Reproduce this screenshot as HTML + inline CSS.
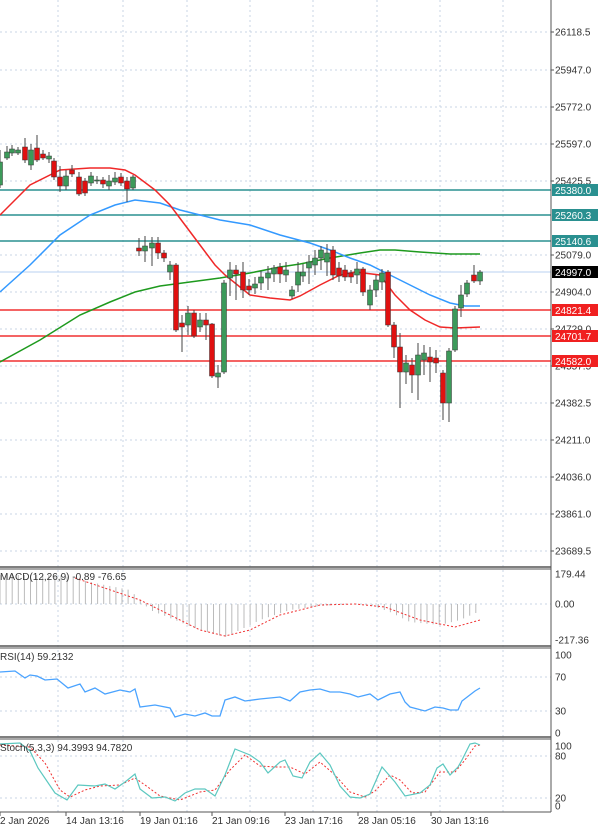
<!DOCTYPE html><html><head><meta charset="utf-8"><style>
body{margin:0;background:#fff;width:600px;height:828px;overflow:hidden}
svg{display:block;font-family:"Liberation Sans",sans-serif}
</style></head><body>
<svg id="s" width="600" height="828" viewBox="0 0 600 828" xmlns="http://www.w3.org/2000/svg"></svg>
<script>
const S=document.getElementById('s');let h='';
const ax=551;
// grids
const vx=[58,123,187,250,313,377,440,503];
const yl=[[32,'26118.5'],[70,'25947.0'],[107,'25772.0'],[144,'25597.0'],[181,'25425.5'],[255,'25079.0'],[292,'24904.0'],[329,'24729.0'],[366,'24557.5'],[403,'24382.5'],[440,'24211.0'],[477,'24036.0'],[514,'23861.0'],[551,'23689.5']];
const g='stroke="#c8d4e4" stroke-width="1" stroke-dasharray="2,3"';
for(const x of vx){h+=`<line x1="${x}" y1="0" x2="${x}" y2="812" ${g}/>`;}
for(const [y] of yl){h+=`<line x1="0" y1="${y}" x2="${ax}" y2="${y}" ${g}/>`;}
[604,677,711,756,798].forEach(y=>h+=`<line x1="0" y1="${y}" x2="${ax}" y2="${y}" ${g}/>`);
// levels
h+=`<line x1="0" y1="272" x2="${ax}" y2="272" stroke="#b8d0f0"/>`;
[190,215,241].forEach(y=>h+=`<line x1="0" y1="${y}" x2="${ax}" y2="${y}" stroke="#2a9090" stroke-width="1.5"/>`);
[310,336,361].forEach(y=>h+=`<line x1="0" y1="${y}" x2="${ax}" y2="${y}" stroke="#f03030" stroke-width="1.5"/>`);
// MAs
const pl=(p,c,w,d)=>`<polyline fill="none" stroke="${c}" stroke-width="${w}" ${d||''} points="${p.map(a=>a.join(',')).join(' ')}"/>`;
h+=pl([[0,362],[40,340],[80,315],[110,302],[135,292],[160,286],[190,282],[220,278],[250,273],[280,267],[300,264],[330,258],[360,253],[380,250],[395,250],[420,252],[450,254],[480,254]],'#1e9a1e',1.5);
h+=pl([[0,292],[30,265],[60,235],[90,215],[115,205],[135,200],[160,203],[180,210],[200,215],[220,220],[250,225],[280,235],[310,243],[330,250],[350,258],[370,265],[390,275],[410,285],[430,295],[450,303],[465,306],[480,306]],'#3399ff',1.5);
h+=pl([[0,215],[30,185],[60,170],[90,168],[110,168],[125,170],[135,175],[155,190],[170,205],[185,225],[200,245],[215,265],[225,275],[240,287],[250,295],[270,298],[290,300],[300,296],[320,285],[340,275],[355,272],[380,275],[395,295],[410,310],[425,320],[440,327],[455,328],[480,327]],'#f02828',1.5);
// candles [x,top,bottom,high,low,color]
const C=[[0,162,185,150,188,'g'],[7,152,158,146,160,'g'],[12,149,153,145,156,'g'],[18,150,153,147,155,'g'],[25,147,160,138,163,'r'],[31,150,165,144,170,'g'],[37,148,160,135,162,'r'],[43,154,158,150,160,'r'],[49,156,159,152,163,'g'],[54,161,177,158,180,'r'],[60,177,186,166,192,'r'],[66,176,186,170,190,'g'],[72,170,174,165,177,'r'],[79,177,194,172,196,'r'],[85,181,193,178,196,'r'],[91,176,183,172,186,'g'],[97,180,181,176,184,'g'],[103,180,184,177,188,'r'],[109,181,186,175,190,'g'],[115,178,182,172,185,'g'],[121,177,183,173,186,'r'],[127,181,189,177,202,'r'],[133,177,188,175,190,'g'],
[139,248,251,238,256,'r'],[145,246,251,236,262,'g'],[152,243,248,237,266,'g'],[158,243,253,237,259,'r'],[164,253,258,250,262,'r'],[170,265,272,261,280,'g'],[176,265,330,263,332,'r'],[182,323,327,315,352,'r'],[188,313,325,306,335,'g'],[194,313,336,310,338,'r'],[200,320,327,313,332,'g'],[206,320,325,313,340,'r'],[212,324,376,323,378,'r'],[218,373,377,365,388,'g'],[224,283,372,280,374,'g'],[230,270,278,262,296,'g'],[236,270,274,265,300,'r'],[243,272,290,262,298,'r'],[249,286,290,279,295,'r'],[255,284,288,277,294,'g'],[261,277,283,271,290,'g'],[268,273,278,266,290,'g'],[274,268,274,265,282,'g'],[280,267,274,263,283,'r'],[286,270,275,262,282,'g'],[292,290,296,286,299,'g'],
[298,272,285,262,292,'g'],[303,272,276,264,282,'g'],[309,262,268,255,284,'g'],[315,258,265,250,275,'g'],[321,250,258,246,270,'g'],[327,253,262,244,276,'g'],[333,250,275,246,280,'r'],[339,268,276,262,282,'r'],[345,270,277,265,281,'r'],[351,273,277,270,283,'r'],[357,269,275,262,284,'g'],[363,269,292,267,296,'r'],[370,290,305,285,310,'g'],[376,280,290,275,297,'g'],[382,273,282,269,290,'g'],[388,272,325,270,327,'r'],[394,325,347,322,358,'r'],[400,347,372,333,408,'r'],[406,363,372,355,384,'g'],[412,365,375,358,393,'r'],[418,355,375,343,400,'g'],[424,353,360,345,375,'g'],[430,357,362,347,382,'r'],[436,358,363,350,373,'r'],[443,373,403,370,420,'r'],[449,351,403,348,422,'g'],[455,309,350,306,352,'g'],[461,295,308,285,317,'g'],[467,283,294,280,297,'g'],[474,275,281,265,283,'r'],[480,272,281,270,285,'g']];
for(const [x,t,b,hi,lo,c] of C){h+=`<line x1="${x}" y1="${hi}" x2="${x}" y2="${lo}" stroke="#444"/>`;
h+=`<rect x="${x-2.5}" y="${t}" width="5" height="${Math.max(1,b-t)}" fill="${c=='g'?'#3c9a5a':'#e01010'}" stroke="#333" stroke-width="0.5"/>`;}
// MACD histogram
const mh=[[0,575],[60,575],[90,582],[130,590],[140,600],[150,610],[200,630],[225,637],[240,630],[260,620],[290,610],[320,606],[350,604],[370,605],[390,612],[410,622],[440,625],[460,620],[478,612]];
const li=(arr,x)=>{for(let i=1;i<arr.length;i++){if(x<=arr[i][0]){const a=arr[i-1],b=arr[i];return a[1]+(b[1]-a[1])*(x-a[0])/(b[0]-a[0]);}}return arr[arr.length-1][1];};
for(let x=0;x<=480;x+=6.1){const y=li(mh,x);h+=`<line x1="${x}" y1="604" x2="${x}" y2="${y}" stroke="#bbb" stroke-width="1"/>`;}
h+=pl([[75,578],[140,600],[160,610],[200,630],[225,636],[250,630],[280,615],[320,605],[355,604],[385,607],[420,620],[455,627],[480,620]],'#f03030',1,'stroke-dasharray="2,2"');
// RSI
h+=pl([[0,672],[15,671],[25,678],[30,675],[37,676],[45,680],[57,679],[68,688],[80,684],[85,692],[95,688],[105,694],[120,690],[130,692],[135,689],[140,707],[155,705],[170,708],[175,717],[185,714],[195,716],[205,713],[212,716],[220,716],[225,700],[235,697],[245,701],[260,699],[280,697],[290,701],[300,692],[310,690],[320,689],[330,692],[340,692],[350,694],[358,697],[370,694],[378,700],[390,694],[400,692],[405,702],[410,707],[425,711],[435,707],[443,708],[450,710],[458,710],[462,701],[475,691],[480,688]],'#4aa3ff',1.3);
// Stoch
h+=pl([[0,745],[30,747],[45,763],[60,790],[70,797],[85,790],[100,786],[120,785],[135,778],[145,785],[160,796],[180,800],[200,792],[215,790],[230,770],[245,755],[260,766],[275,767],[290,767],[305,774],[320,762],[335,775],[350,792],[365,797],[375,791],[390,775],[400,780],[412,793],[425,792],[440,772],[455,772],[465,760],[475,746],[480,745]],'#f03030',1,'stroke-dasharray="2,2"');
h+=pl([[0,744],[20,743],[30,751],[38,768],[55,793],[67,800],[78,785],[95,786],[105,784],[115,789],[125,782],[135,774],[140,789],[152,798],[165,797],[175,801],[185,793],[195,789],[205,789],[215,796],[225,775],[235,749],[250,755],[260,762],[268,773],[280,762],[285,760],[293,776],[302,778],[310,762],[320,753],[330,765],[340,786],[350,797],[360,798],[370,794],[382,767],[395,782],[405,796],[420,793],[430,785],[437,768],[443,764],[450,775],[458,767],[462,760],[470,744],[475,743],[480,745]],'#5cc8c0',1.2);
// panel borders
h+=`<rect x="${ax+1}" y="0" width="${600-ax}" height="828" fill="#fff"/>`;
h+=`<line x1="${ax}" y1="0" x2="${ax}" y2="812" stroke="#555"/>`;
[567,646,737].forEach(y=>{h+=`<line x1="0" y1="${y}" x2="${ax}" y2="${y}" stroke="#555" stroke-width="1.5"/><line x1="0" y1="${y+2}" x2="${ax}" y2="${y+2}" stroke="#555"/>`;});
h+=`<line x1="0" y1="812" x2="${ax}" y2="812" stroke="#555"/>`;
// axis labels
for(const [y,t] of yl){h+=`<line x1="${ax}" y1="${y}" x2="${ax+3}" y2="${y}" stroke="#555"/><text x="555" y="${y+3.5}" font-size="10" fill="#333">${t}</text>`;}
const box=(y,t,bg,fg)=>{h+=`<rect x="552" y="${y-6}" width="46" height="12" fill="${bg}"/><text x="555" y="${y+4}" font-size="10" fill="${fg}">${t}</text>`;};
box(190,'25380.0','#2a9090','#fff');box(215,'25260.3','#2a9090','#fff');box(241,'25140.6','#2a9090','#fff');
box(272,'24997.0','#000','#fff');box(310,'24821.4','#f02020','#fff');box(336,'24701.7','#f02020','#fff');box(361,'24582.0','#f02020','#fff');
[[574,'179.44'],[604,'0.00'],[640,'-217.36'],[655,'100'],[677,'70'],[711,'30'],[733,'0'],[746,'100'],[756,'80'],[798,'20'],[806,'0']].forEach(([y,t])=>h+=`<text x="555" y="${y+3.5}" font-size="10" fill="#333">${t}</text>`);
// panel titles
h+=`<text x="0" y="580" font-size="10" fill="#333">MACD(12,26,9) -0.89 -76.65</text>`;
h+=`<text x="0" y="660" font-size="10" fill="#333">RSI(14) 59.2132</text>`;
h+=`<text x="0" y="751" font-size="10" fill="#333">Stoch(5,3,3) 94.3993 94.7820</text>`;
// dates
[[0,'2 Jan 2026'],[66,'14 Jan 13:16'],[140,'19 Jan 01:16'],[212,'21 Jan 09:16'],[285,'23 Jan 17:16'],[358,'28 Jan 05:16'],[431,'30 Jan 13:16']].forEach(([x,t])=>{h+=`<line x1="${x}" y1="812" x2="${x}" y2="816" stroke="#555"/><text x="${x}" y="824" font-size="10" fill="#333">${t}</text>`;});
S.innerHTML=h;
</script></body></html>
